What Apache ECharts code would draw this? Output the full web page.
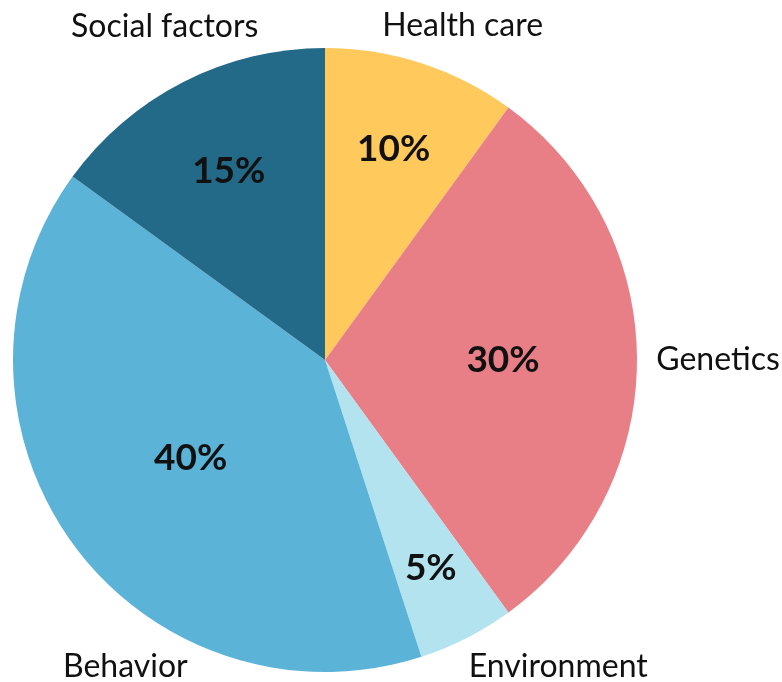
<!DOCTYPE html>
<html>
<head>
<meta charset="utf-8">
<script src="https://cdn.jsdelivr.net/npm/echarts@6/dist/echarts.min.js"></script>
<style>
    html, body { margin: 0; padding: 0; background: #fff; }
    #chart { width: 782px; height: 682px; }
</style>
</head>
<body>
<div id="chart"></div>
<script>
    // data
    const categories = ['Health care', 'Genetics', 'Environment', 'Behavior', 'Social factors']
    const shares = [10, 30, 5, 40, 15]
    const colors = ['#FFC95B', '#E97F86', '#B3E3EE', '#5BB3D7', '#226A88']

    // label tweaks (pixels)
    const pctRadius = [222, 178, 233, 166, 212]
    const nameShift = [[27, -9], [46, 0], [73, 2], [82, 106], [0, -29]]

    const CX = 325, CY = 360, R = 312

    const chart = echarts.init(document.getElementById('chart'))

    const sliceData = categories.map((name, i) => ({
        name: name,
        value: shares[i],
        itemStyle: { color: colors[i] }
    }))

    chart.setOption({
        animation: false,
        series: [{
            // slices + percent labels
            type: 'pie',
            center: [CX, CY],
            radius: R,
            startAngle: 90,
            clockwise: true,
            silent: true,
            avoidLabelOverlap: false,
            itemStyle: { borderWidth: 0 },
            label: {
                position: 'inside',
                formatter: '{c}%',
                fontFamily: 'Lato',
                fontWeight: 'bold',
                fontSize: 37,
                color: '#111'
            },
            labelLayout: p => {
                const r = p.labelRect
                const vx = r.x + r.width / 2 - CX
                const vy = r.y + r.height / 2 - CY
                const len = Math.hypot(vx, vy) || 1
                const d = pctRadius[p.dataIndex]
                return { x: CX + vx / len * d, y: CY + vy / len * d, align: 'center', verticalAlign: 'middle' }
            },
            data: sliceData
        }, {
            // category names outside
            type: 'pie',
            center: [CX, CY],
            radius: R,
            startAngle: 90,
            clockwise: true,
            silent: true,
            avoidLabelOverlap: false,
            itemStyle: { color: 'transparent', borderWidth: 0 },
            label: {
                position: 'outside',
                alignTo: 'none',
                formatter: '{b}',
                fontFamily: 'Lato',
                fontSize: 32,
                color: '#111'
            },
            labelLine: { show: false, length: 30, length2: 0 },
            labelLayout: p => ({
                dx: nameShift[p.dataIndex][0],
                dy: nameShift[p.dataIndex][1],
                align: 'center'
            }),
            data: categories.map((name, i) => ({ name: name, value: shares[i] }))
        }]
    })
</script>
</body>
</html>
